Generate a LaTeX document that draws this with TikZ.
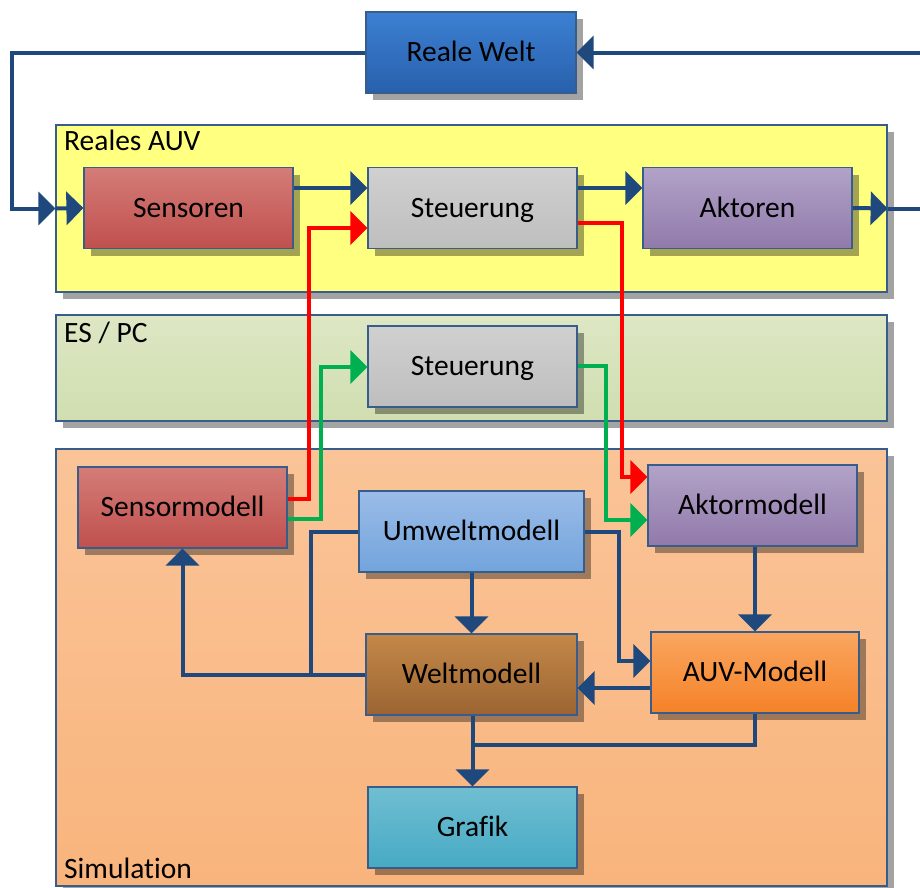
\documentclass[tikz,border=0pt]{standalone}
\usepackage{fontspec}
\setmainfont{Carlito}[Ligatures=NoCommon]
\usetikzlibrary{arrows.meta,shadows}
\definecolor{lineblue}{RGB}{31,73,125}
\definecolor{edgec}{RGB}{56,93,138}
\definecolor{redl}{RGB}{255,0,0}
\definecolor{greenl}{RGB}{0,176,80}
\begin{document}
\begin{tikzpicture}[x=1pt,y=-1pt,
  shad/.style={drop shadow={shadow xshift=7pt,shadow yshift=-7pt,opacity=0.36,fill=black}},
  box/.style={shad,draw=edgec,line width=1.2pt,minimum width=209pt,minimum height=81pt,inner sep=0pt,
    text height=21pt,text depth=3pt,font=\fontsize{29.5}{35}\selectfont},
  cont/.style={shad,draw=edgec,line width=1.2pt,inner sep=0pt,minimum width=831pt},
  lbl/.style={inner sep=0pt,font=\fontsize{29.5}{35}\selectfont},
  bl/.style={draw=lineblue,line width=4pt},
  rd/.style={draw=redl,line width=4pt},
  gn/.style={draw=greenl,line width=4pt},
  arr/.style={-{Triangle[length=17pt,width=33pt]}},
]
\useasboundingbox (0,0) rectangle (920,887);
% containers
\node[cont,fill={rgb,255:red,255;green,255;blue,128},minimum height=167pt] (auvC) at (471.5,208.5) {};
\node[cont,top color={rgb,255:red,221;green,231;blue,196},bottom color={rgb,255:red,208;green,222;blue,176},minimum height=106pt] (esC) at (471.5,368) {};
\node[cont,top color={rgb,255:red,250;green,196;blue,152},bottom color={rgb,255:red,249;green,180;blue,124},minimum height=437pt] (simC) at (471.5,667.5) {};
\node[lbl,anchor=base west] (auvL) at (64,150) {Reales AUV};
\node[lbl,anchor=base west] (esL) at (64,342) {ES / PC};
\node[lbl,anchor=base west] (simL) at (64,878) {Simulation};
% boxes
\node[box,minimum width=210pt,top color={rgb,255:red,60;green,128;blue,210},bottom color={rgb,255:red,40;green,96;blue,172}] (welt) at (471,52.5) {Reale Welt};
\node[box,top color={rgb,255:red,212;green,124;blue,120},bottom color={rgb,255:red,192;green,80;blue,77}] (sens) at (188.5,208) {Sensoren};
\node[box,top color={rgb,255:red,208;green,208;blue,208},bottom color={rgb,255:red,190;green,190;blue,190}] (steu) at (472.5,208) {Steuerung};
\node[box,top color={rgb,255:red,178;green,162;blue,200},bottom color={rgb,255:red,145;green,122;blue,170}] (akt) at (747.5,208) {Aktoren};
\node[box,top color={rgb,255:red,208;green,208;blue,208},bottom color={rgb,255:red,190;green,190;blue,190}] (steu2) at (472.5,366.5) {Steuerung};
\node[box,top color={rgb,255:red,212;green,124;blue,120},bottom color={rgb,255:red,192;green,80;blue,77}] (sensm) at (182.5,507.5) {Sensormodell};
\node[box,minimum width=225pt,top color={rgb,255:red,154;green,188;blue,232},bottom color={rgb,255:red,114;green,164;blue,220}] (umw) at (471.5,531.5) {Umweltmodell};
\node[box,top color={rgb,255:red,178;green,162;blue,200},bottom color={rgb,255:red,145;green,122;blue,170}] (aktm) at (752.5,505.5) {Aktormodell};
\node[box,minimum width=211pt,top color={rgb,255:red,196;green,136;blue,72},bottom color={rgb,255:red,155;green,100;blue,50}] (wm) at (471.5,674.5) {Weltmodell};
\node[box,minimum width=208pt,top color={rgb,255:red,250;green,166;blue,96},bottom color={rgb,255:red,245;green,130;blue,40}] (auv) at (755,672.5) {AUV-Modell};
\node[box,top color={rgb,255:red,112;green,190;blue,210},bottom color={rgb,255:red,70;green,170;blue,196}] (graf) at (472.5,827.5) {Grafik};
% real-world loop
\coordinate (lft) at (12,208.5);
\coordinate (rgt) at (940,208.5);
\draw[bl,arr] (welt.west) -| (lft) -- (auvC.west);
\draw[bl,arr] (auvC.west) -- (sens.west);
\draw[bl,arr] (akt.east) -- (auvC.east);
\draw[bl,arr] (auvC.east) -- (rgt) |- (welt.east);
\draw[bl,arr] (sens.east |- 0,188) -- (steu.west |- 0,188);
\draw[bl,arr] (steu.east |- 0,188) -- (akt.west |- 0,188);
% red
\draw[rd,arr] (sensm.east |- 0,499) -| (309,228) -- (steu.west |- 0,228);
\draw[rd,arr] (steu.east |- 0,223) -| (622,477) -- (aktm.west |- 0,477);
% green
\draw[gn,arr] (sensm.east |- 0,519) -| (321,367) -- (steu2.west |- 0,367);
\draw[gn,arr] (steu2.east |- 0,366) -| (606,520) -- (aktm.west |- 0,520);
% simulation internals
\draw[bl,arr] (wm.west) -| (sensm.south);
\draw[bl] (umw.west |- 0,532) -| (311,674.5);
\draw[bl,arr] (umw.south) -- (wm.north);
\draw[bl,arr] (umw.east |- 0,532) -| (619,661) -- (auv.west |- 0,661);
\draw[bl,arr] (aktm.south -| auv.north) -- (auv.north);
\draw[bl,arr] (auv.west |- 0,688) -- (wm.east |- 0,688);
\draw[bl,arr] (wm.south -| graf.north) -- (graf.north);
\draw[bl] (auv.south) |- (graf.north |- 0,745);
\end{tikzpicture}
\end{document}
